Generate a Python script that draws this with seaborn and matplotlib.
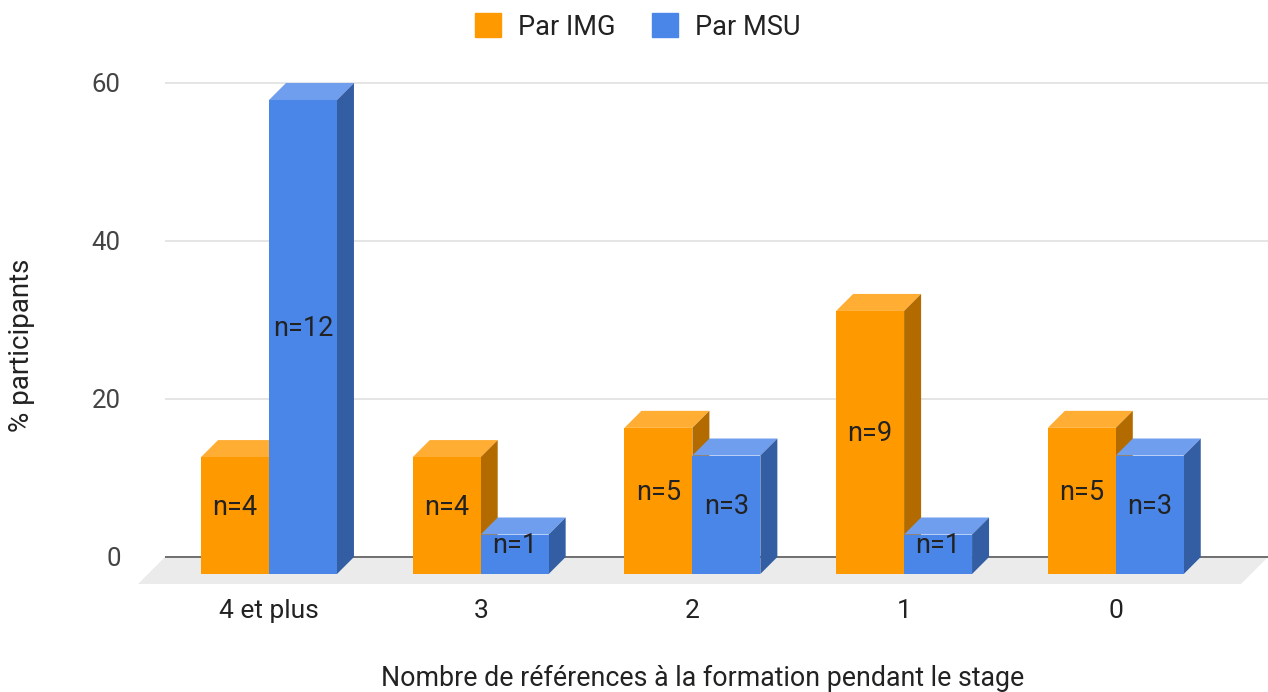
import pandas as pd
import seaborn as sns
from matplotlib import pyplot as plt
from matplotlib.patches import Polygon, Patch
from matplotlib.transforms import ScaledTranslation

categories = ["4 et plus", "3", "2", "1", "0"]
series = ["Par IMG", "Par MSU"]
pct_img = [14.8, 14.8, 18.5, 33.3, 18.5]
pct_msu = [60.0, 5.0, 15.0, 5.0, 15.0]
n_img = [4, 4, 5, 9, 5]
n_msu = [12, 1, 3, 1, 3]
yticks = [0, 20, 40, 60]

front_colors = ["#ff9900", "#4a86e8"]
top_colors = ["#ffad33", "#6e9eed"]
side_colors = ["#b36b00", "#335ea3"]

sns.set_theme(style="white")
plt.rcParams["font.family"] = ["Roboto", "DejaVu Sans"]

df = pd.DataFrame({
    "cat": categories * 2,
    "pct": pct_img + pct_msu,
    "serie": [series[0]] * 5 + [series[1]] * 5,
    "n": n_img + n_msu,
})

W, H = 1268, 692
fig = plt.figure(figsize=(W / 100, H / 100), dpi=100)
ax = fig.add_axes([165 / W, 1 - 588.6 / H, (1268 - 165) / W, (588.6 - 67.2) / H])

sns.barplot(df, x="cat", y="pct", hue="serie", palette=front_colors,
            saturation=1, width=0.642, legend=False, ax=ax, zorder=3)

xl, xr = (165 - 286) / 211.7, (1268 - 286) / 211.7
ax.set(xlim=(xl, xr), ylim=(-4, 62), yticks=yticks, xlabel="", ylabel="")
ax.set_xticks(range(len(categories)), categories)
ax.yaxis.grid(True, color="#e0e0e0", lw=1.2, zorder=0)
ax.set_axisbelow(True)
sns.despine(ax=ax, left=True, bottom=True)
ax.tick_params(axis="y", length=0, pad=32, labelsize=18.5, labelcolor="#444444")
ax.tick_params(axis="x", length=0, pad=7.5, labelsize=19, labelcolor="#222222")
shift = ScaledTranslation(-17 / 100, 0, fig.dpi_scale_trans)
for lbl in ax.get_xticklabels():
    lbl.set_transform(lbl.get_transform() + shift)

# pixel -> data conversion for the 3D depth
p0 = ax.transData.transform((0, 0))
p1 = ax.transData.transform((1, 1))
ux, uy = p1[0] - p0[0], p1[1] - p0[1]
ddx, ddy = 17 / ux, 17 / uy
fdx, fdy = 27 / ux, 27 / uy

floor = Polygon([(xl, 0), (xr, 0), (xr - fdx, -fdy), (xl - fdx, -fdy)],
                closed=True, color="#ebebeb", zorder=1, clip_on=False, lw=0)
ax.add_patch(floor)
ax.plot([xl, xr], [0, 0], color="#666666", lw=1.3, zorder=1.5)

for k, cont in enumerate(ax.containers):
    z = 2 + k * 0.5
    ns = n_img if k == 0 else n_msu
    for bar, n in zip(cont, ns):
        x0, w, h = bar.get_x(), bar.get_width(), bar.get_height()
        top = Polygon([(x0 - ddx, h - ddy), (x0 + w - ddx, h - ddy), (x0 + w, h), (x0, h)],
                      closed=True, color=top_colors[k], lw=0, zorder=z)
        side = Polygon([(x0 + w - ddx, -ddy), (x0 + w, 0), (x0 + w, h), (x0 + w - ddx, h - ddy)],
                       closed=True, color=side_colors[k], lw=0, zorder=z)
        ax.add_patch(top)
        ax.add_patch(side)
        bar.set_x(x0 - ddx)
        bar.set_y(-ddy)
        bar.set_zorder(z + 0.1)
        bar.set_linewidth(0)
        bar.set_clip_on(False)
        ax.text(x0 + w / 2 - ddx, h / 2 - ddy / 2, f"n={n}", ha="center", va="center",
                fontsize=19.5, color="#222222", zorder=5)

handles = [Patch(color=c, label=s) for c, s in zip(front_colors, series)]
fig.legend(handles=handles, loc="center", bbox_to_anchor=(638 / W, 1 - 27 / H), ncol=2,
           frameon=False, fontsize=19.5, handlelength=0.96, handleheight=0.96,
           handletextpad=0.63, columnspacing=1.33, labelcolor="#222222")

fig.text(22 / W, 1 - 345 / H, "% participants", rotation=90, ha="center", va="center",
         fontsize=20, color="#222222")
fig.text(703 / W, 1 - 678 / H, "Nombre de références à la formation pendant le stage",
         ha="center", va="center", fontsize=19.3, color="#222222")

fig.savefig("out.png", dpi=100)
